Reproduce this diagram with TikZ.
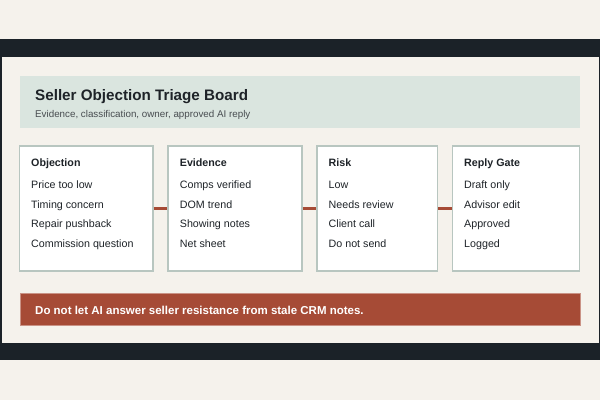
\documentclass[tikz,border=0pt]{standalone}
\usepackage{fontspec}
\setmainfont{Liberation Sans}
\definecolor{boardcream}{RGB}{245,242,236}
\definecolor{boardink}{RGB}{27,34,40}
\definecolor{headsage}{RGB}{218,229,223}
\definecolor{cardedge}{RGB}{184,198,192}
\definecolor{triagerust}{RGB}{166,75,54}
\definecolor{textdark}{RGB}{30,35,40}
\definecolor{textgray}{RGB}{72,76,80}

\begin{document}
\begin{tikzpicture}[x=1pt,y=-1pt,font=\fontsize{10.7}{19.5}\selectfont,
    card/.style={draw=cardedge,line width=1.6pt,fill=white,inner sep=0pt,minimum height=125pt},
    cardtext/.style={anchor=north west,align=left,inner sep=0pt,text=textdark},
    link/.style={triagerust,line width=3pt}]
    \useasboundingbox[fill=boardcream] (0,0) rectangle (600,400);
    \fill[boardink] (0,39) rectangle (600,360);
    \fill[boardcream] (1.5,56.5) rectangle (598.5,342.5);
    \node (header) [fill=headsage,inner sep=0pt,minimum width=560.5pt,minimum height=52pt,anchor=north west] at (19.5,75.7) {};
    \node (title) [anchor=base west,inner sep=0pt,text=textdark,font=\bfseries\fontsize{15.2}{18}\selectfont] at (35,100) {Seller Objection Triage Board};
    \node (subtitle) [anchor=base west,inner sep=0pt,text=textgray,font=\fontsize{9.8}{12}\selectfont] at (35,117.5) {Evidence, classification, owner, approved AI reply};
    \node (objection) [card,minimum width=133.4pt] at (86,208.5) {};
    \node (evidence) [card,minimum width=133.7pt] at (234.85,208.5) {};
    \node (risk) [card,minimum width=120.6pt] at (377,208.5) {};
    \node (replygate) [card,minimum width=127pt] at (515.8,208.5) {};
    \draw[link] (objection)--(evidence);
    \draw[link] (evidence)--(risk);
    \draw[link] (risk)--(replygate);
    \node (objtext) [cardtext] at (31,158.3) {\textbf{Objection}\\[3pt]Price too low\\Timing concern\\Repair pushback\\Commission question};
    \node (evidtext) [cardtext] at (179.7,158.3) {\textbf{Evidence}\\[3pt]Comps verified\\DOM trend\\Showing notes\\Net sheet};
    \node (risktext) [cardtext] at (328.5,158.3) {\textbf{Risk}\\[3pt]Low\\Needs review\\Client call\\Do not send};
    \node (replytext) [cardtext] at (464,158.3) {\textbf{Reply Gate}\\[3pt]Draft only\\Advisor edit\\Approved\\Logged};
    \node (warning) [fill=triagerust,draw=triagerust!60!white,line width=0.5pt,inner sep=0pt,minimum width=560.5pt,minimum height=31.7pt,anchor=north west] at (19.5,293.3) {};
    \node (warntext) [anchor=base west,inner sep=0pt,text=white,font=\bfseries\fontsize{11.5}{14}\selectfont] at (35,314) {Do not let AI answer seller resistance from stale CRM notes.};
  \end{tikzpicture}
\end{document}
